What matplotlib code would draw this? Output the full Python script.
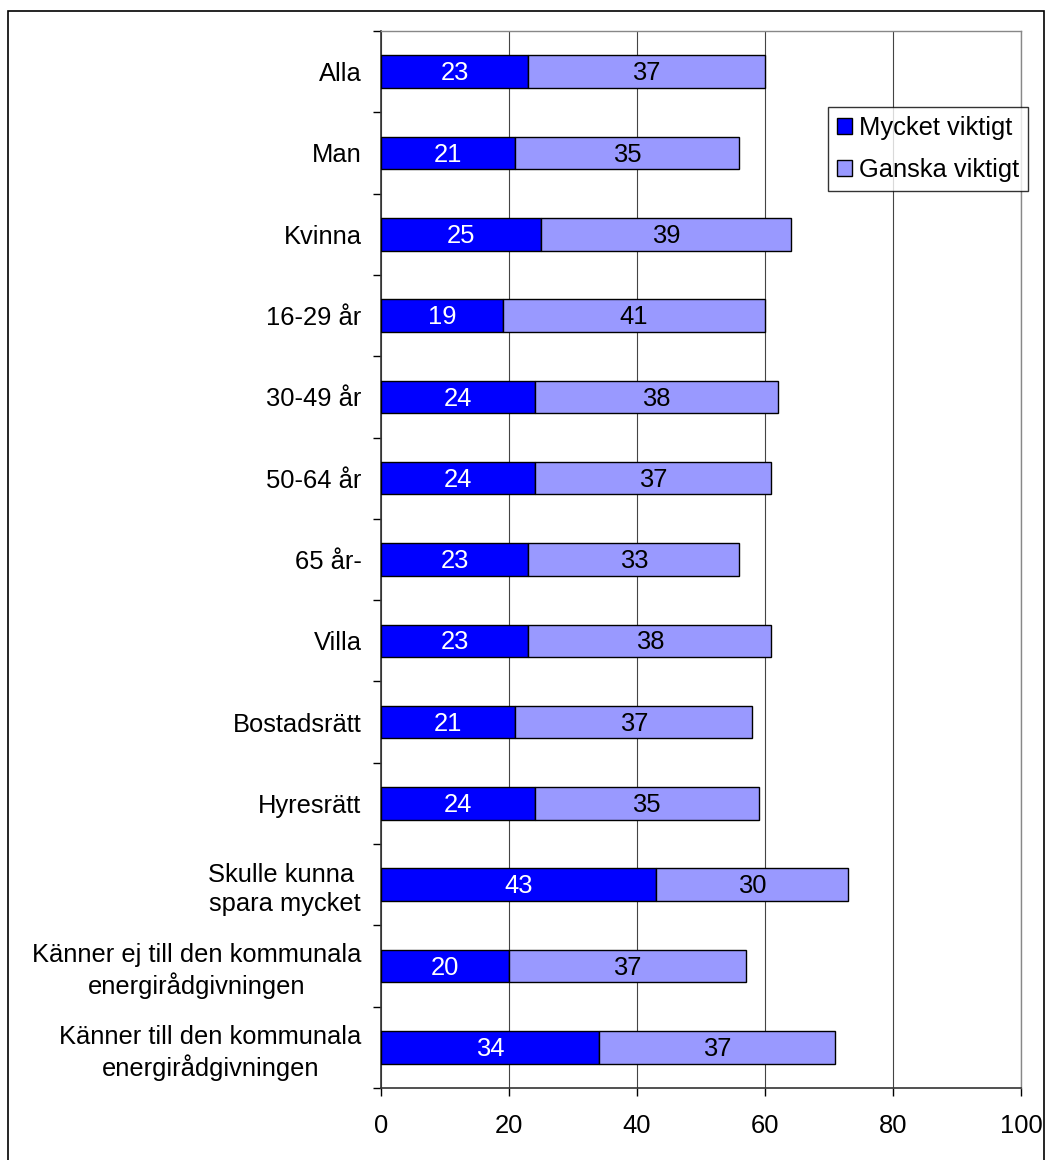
import matplotlib.pyplot as plt
import numpy as np
from matplotlib.patches import Rectangle

plt.rcParams['font.family'] = ['Liberation Sans', 'DejaVu Sans']

categories = ['Alla', 'Man', 'Kvinna', '16-29 år', '30-49 år', '50-64 år', '65 år-',
              'Villa', 'Bostadsrätt', 'Hyresrätt', 'Skulle kunna \nspara mycket',
              'Känner ej till den kommunala\nenergirådgivningen',
              'Känner till den kommunala\nenergirådgivningen']
mycket = [23, 21, 25, 19, 24, 24, 23, 23, 21, 24, 43, 20, 34]
ganska = [37, 35, 39, 41, 38, 37, 33, 38, 37, 35, 30, 37, 37]

fs = 18.4

fig = plt.figure(figsize=(10.47, 11.6), dpi=100)
ax = fig.add_axes([381/1047, 1 - 1088/1160, 640/1047, 1057/1160])

y = np.arange(len(categories))
b1 = ax.barh(y, mycket, height=0.4, color='#0000FF', edgecolor='black', linewidth=1,
             label='Mycket viktigt', zorder=3)
b2 = ax.barh(y, ganska, left=mycket, height=0.4, color='#9999FF', edgecolor='black',
             linewidth=1, label='Ganska viktigt', zorder=3)

for i in range(len(categories)):
    ax.text(mycket[i] / 2, y[i] + 0.02, str(mycket[i]), ha='center', va='center',
            color='white', fontsize=fs, zorder=4)
    ax.text(mycket[i] + ganska[i] / 2, y[i] + 0.02, str(ganska[i]), ha='center', va='center',
            color='black', fontsize=fs, zorder=4)

ax.set_xlim(0, 100)
ax.set_ylim(len(categories) - 0.5, -0.5)
ax.set_xticks([0, 20, 40, 60, 80, 100])
ax.tick_params(axis='x', labelsize=fs, length=6, width=1, pad=13, colors='black')
ax.set_yticks(y)
ax.set_yticklabels(categories, fontsize=fs, multialignment='center', linespacing=1.25)
ax.tick_params(axis='y', length=0, pad=14)
ax.set_yticks(np.arange(len(categories) + 1) - 0.5, minor=True)
ax.tick_params(axis='y', which='minor', length=6, width=1)
ax.grid(axis='x', color='#444444', linewidth=0.8, zorder=0)

for s in ['left', 'bottom']:
    ax.spines[s].set_color('#333333')
    ax.spines[s].set_linewidth(1.2)
for s in ['top', 'right']:
    ax.spines[s].set_color('#888888')
    ax.spines[s].set_linewidth(1)

leg = ax.legend(loc='upper left', bbox_to_anchor=(447/640, 1 - 76/1057), fontsize=fs,
                frameon=True, fancybox=False, edgecolor='black', handlelength=0.6,
                handleheight=0.6, handletextpad=0.25, borderpad=0.35, labelspacing=0.7,
                borderaxespad=0)
leg.get_frame().set_linewidth(1)

fig.patches.append(Rectangle((8/1047, -0.01), 1036/1047, 1 - 11/1160 + 0.01,
                             transform=fig.transFigure, fill=False, edgecolor='black',
                             linewidth=1.2))

fig.savefig('out.png', dpi=100)
